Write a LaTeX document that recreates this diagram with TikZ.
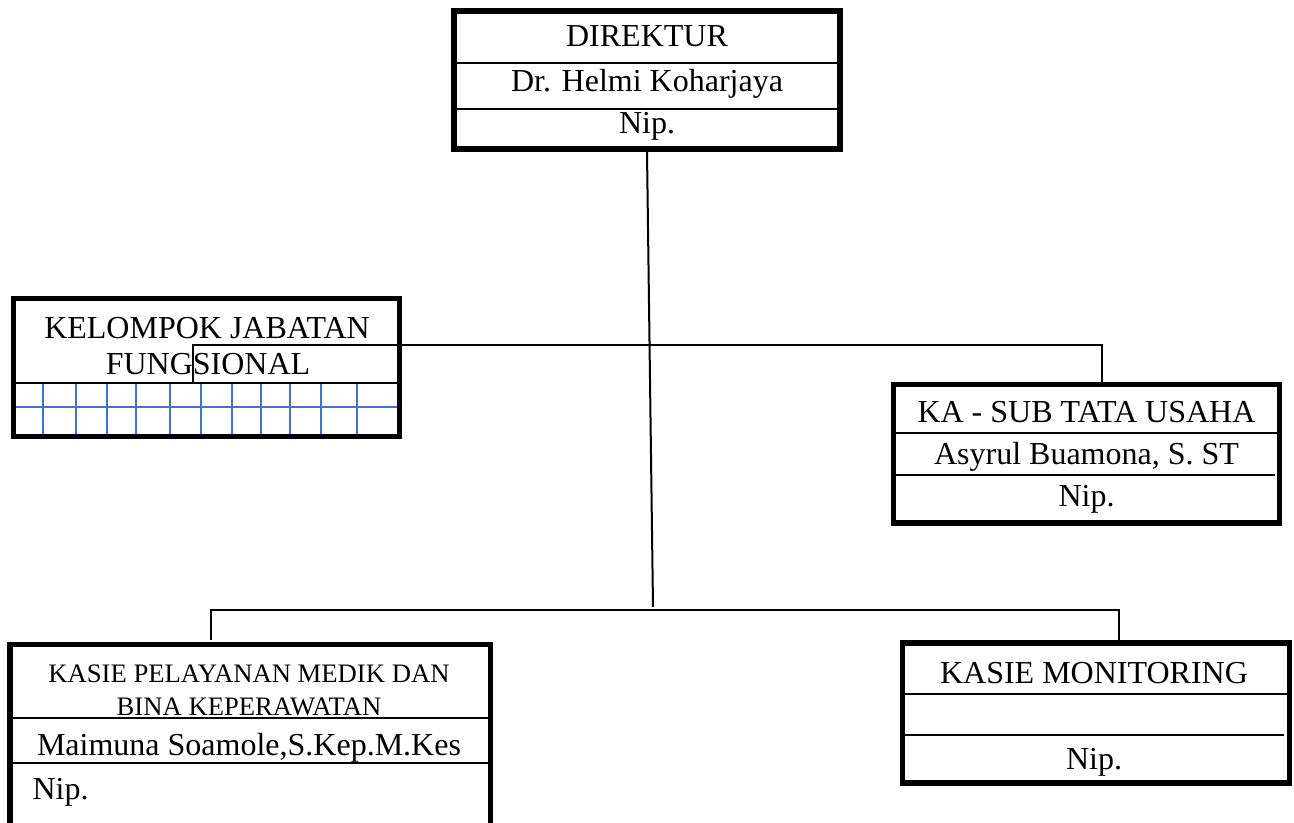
\documentclass[tikz,border=0pt]{standalone}
\usepackage{fontspec}
\setmainfont{Liberation Serif}
\usetikzlibrary{
    calc,
    fit,
    positioning,
}
\definecolor{GridBlue}{RGB}{68,114,196}
\tikzstyle{unit}=[draw,rectangle,line width=1.9pt,inner sep=0pt]
\tikzstyle{rowline}=[line width=0.75pt]
\tikzstyle{txt}=[inner sep=0pt,anchor=base,font=\fontsize{12}{14}\selectfont]
\tikzstyle{smalltxt}=[txt,font=\fontsize{10}{12}\selectfont]
\tikzstyle{bus}=[line width=0.75pt]
\tikzstyle{cell}=[draw=GridBlue,line width=0.75pt]

\begin{document}
\begin{tikzpicture}[x=0.375pt,y=-0.375pt]
    \useasboundingbox (0,0) rectangle (1294,823);
    \clip (0,0) rectangle (1294,823);

    % Direktur
    \node[unit,fit={(454,11) (840,149)}] (Direktur) {};
    \draw[rowline] (454,63) -- (840,63);
    \draw[rowline] (454,109.5) -- (840,109.5);
    \node[txt] (Direktur-1) at (647,46.7) {DIREKTUR};
    \node[txt] (Direktur-2) at (647,91.5) {Dr. Helmi Koharjaya};
    \node[txt] (Direktur-3) at (647,134) {Nip.};

    % Kelompok jabatan fungsional (grid first, border on top)
    \draw[cell] (13.5,407.3) -- (399.5,407.3);
    \foreach \x in {43.3,76,106.7,135.7,170,200.7,231.7,260.7,290,321,357.3}
        \draw[cell] (\x,383.3) -- (\x,436.5);
    \draw[rowline] (13.5,383.3) -- (399.5,383.3);
    \node[unit,fit={(13.5,298.5) (399.5,436.5)}] (KJF) {};
    \node[txt] (KJF-1) at (207,338.3) {KELOMPOK JABATAN};
    \node[txt] (KJF-2) at (208,375) {FUNGSIONAL};

    % Ka - Sub Tata Usaha
    \node[unit,fit={(893.5,384.5) (1279.5,523)}] (TataUsaha) {};
    \draw[rowline] (893.5,433.3) -- (1279.5,433.3);
    \draw[rowline] (893.5,475.5) -- (1275,475.5);
    \node[txt] (TataUsaha-1) at (1086.5,423) {KA - SUB TATA USAHA};
    \node[txt] (TataUsaha-2) at (1086.5,464.5) {Asyrul Buamona, S. ST};
    \node[txt] (TataUsaha-3) at (1086.5,507) {Nip.};

    % Kasie pelayanan medik
    \node[unit,fit={(10,644.5) (490.5,850)}] (Medik) {};
    \draw[rowline] (10,717.7) -- (490.5,717.7);
    \draw[rowline] (10,763.3) -- (490.5,763.3);
    \node[smalltxt] (Medik-1) at (249,683) {KASIE PELAYANAN MEDIK DAN};
    \node[smalltxt] (Medik-2) at (249,715) {BINA KEPERAWATAN};
    \node[txt] (Medik-3) at (249,755.5) {Maimuna Soamole,S.Kep.M.Kes};
    \node[txt,anchor=base west] (Medik-4) at (32,799.3) {Nip.};

    % Kasie monitoring
    \node[unit,fit={(902.5,643) (1289.5,783)}] (Monitoring) {};
    \draw[rowline] (902.5,694.3) -- (1289.5,694.3);
    \draw[rowline] (902.5,735) -- (1284,735);
    \node[txt] (Monitoring-1) at (1094,683.3) {KASIE MONITORING};
    \node[txt] (Monitoring-3) at (1094,769.5) {Nip.};

    % Connectors
    \coordinate (kjfTap) at (193,383.3);
    \coordinate (kaTap) at (1102,384.5);
    \coordinate (busA) at (649,345.3);
    \draw[bus] (kjfTap) |- (busA) -| (kaTap);

    \coordinate (dirEnd) at (653,607);
    \draw[bus] (Direktur.south) -- (dirEnd);

    \coordinate (busB) at (653,610.5);
    \coordinate (medTap) at (211,640);
    \coordinate (monTap) at (1119,640);
    \draw[bus] (medTap) |- (busB) -| (monTap);
\end{tikzpicture}
\end{document}
